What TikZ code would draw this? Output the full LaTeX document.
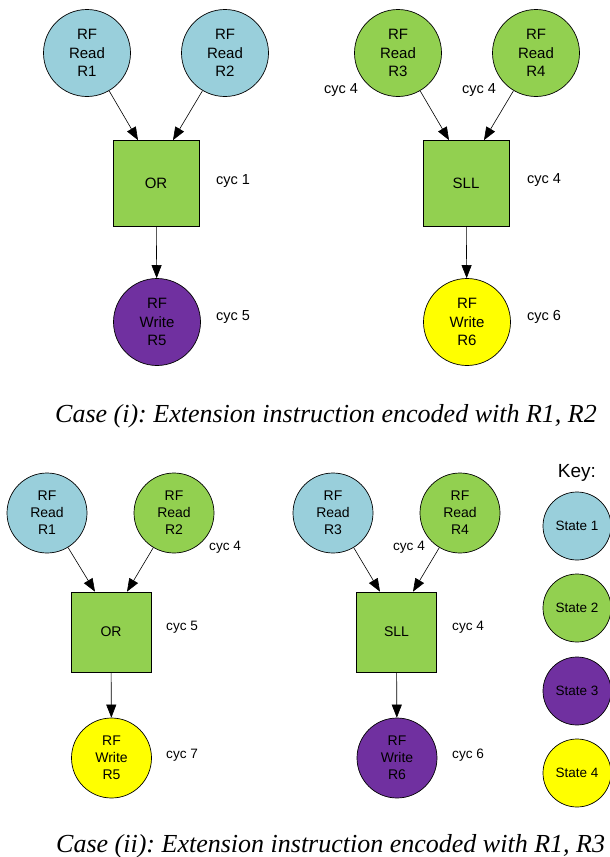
\documentclass[tikz,border=0pt]{standalone}
\usepackage{fontspec}
\setmainfont{Liberation Sans}
\newfontfamily\capfont[ItalicFont={Liberation Serif Italic}]{Liberation Serif}
\usetikzlibrary{arrows.meta}
\definecolor{stateone}{RGB}{153,207,219}
\definecolor{statetwo}{RGB}{146,208,80}
\definecolor{statethree}{RGB}{112,48,160}
\definecolor{statefour}{RGB}{255,255,0}
\begin{document}
\begin{tikzpicture}[
    x=1pt, y=-1pt,
    every node/.style={inner sep=0pt, align=center},
    reg/.style={circle, draw, line width=0.7pt, minimum size=87pt, font=\fontsize{15}{18.3}\selectfont},
    regsmall/.style={reg, minimum size=80pt, font=\fontsize{14}{17}\selectfont},
    opbox/.style={draw, line width=0.7pt, fill=statetwo, minimum size=86pt, font=\fontsize{15}{18}\selectfont},
    opsmall/.style={opbox, minimum size=80pt, font=\fontsize{14}{17}\selectfont},
    cyc/.style={font=\fontsize{14.5}{17}\selectfont},
    cycsmall/.style={font=\fontsize{13.6}{16}\selectfont},
    keydot/.style={circle, draw, line width=0.7pt, minimum size=68pt, font=\fontsize{13.5}{16}\selectfont},
    casetext/.style={anchor=base west, font=\capfont\itshape\fontsize{26}{30}\selectfont\frenchspacing},
    flow/.style={-{Triangle[length=13pt, width=10pt]}, line width=0.6pt}
  ]
  \useasboundingbox (0,0) rectangle (610,857);

  % case (i)
  \node[reg, fill=stateone] (r1) at (87,53) {RF\\Read\\R1};
  \node[reg, fill=stateone] (r2) at (225,53) {RF\\Read\\R2};
  \node[opbox] (or1) at (156,183.5) {OR};
  \node[reg, fill=statethree] (w5) at (157,322) {RF\\Write\\R5};
  \node[cyc, anchor=west] (c1) at (216,181) {cyc 1};
  \node[cyc, anchor=west] (c5) at (216,317) {cyc 5};

  \node[reg, fill=statetwo] (r3) at (398,53) {RF\\Read\\R3};
  \node[reg, fill=statetwo] (r4) at (536,53) {RF\\Read\\R4};
  \node[opbox] (sll1) at (466,183.5) {SLL};
  \node[reg, fill=statefour] (w6) at (467,322) {RF\\Write\\R6};
  \node[cyc] (c4a) at (341,90) {cyc 4};
  \node[cyc] (c4b) at (479,90) {cyc 4};
  \node[cyc, anchor=west] (c4c) at (527,180) {cyc 4};
  \node[cyc, anchor=west] (c6) at (527,317) {cyc 6};

  \draw[flow] (r1) -- ([xshift=-18pt]or1.north);
  \draw[flow] (r2) -- ([xshift=17pt]or1.north);
  \draw[flow] (or1) -- (w5);
  \draw[flow] (r3) -- ([xshift=-17pt]sll1.north);
  \draw[flow] (r4) -- ([xshift=18pt]sll1.north);
  \draw[flow] (sll1) -- (w6);

  \node[casetext] (capone) at (55,422) {Case (i): Extension instruction encoded with R1, R2};

  % case (ii)
  \node[regsmall, fill=stateone] (r1b) at (47,513) {RF\\Read\\R1};
  \node[regsmall, fill=statetwo] (r2b) at (174,513) {RF\\Read\\R2};
  \node[opsmall] (or2) at (111,632) {OR};
  \node[regsmall, fill=statefour] (w5b) at (111.5,758) {RF\\Write\\R5};
  \node[cycsmall, anchor=west] (c4d) at (209,547) {cyc 4};
  \node[cycsmall, anchor=west] (c5b) at (166,627) {cyc 5};
  \node[cycsmall, anchor=west] (c7) at (166,755) {cyc 7};

  \node[regsmall, fill=stateone] (r3b) at (333,513) {RF\\Read\\R3};
  \node[regsmall, fill=statetwo] (r4b) at (460,513) {RF\\Read\\R4};
  \node[opsmall] (sll2) at (396.5,632) {SLL};
  \node[regsmall, fill=statethree] (w6b) at (397,758) {RF\\Write\\R6};
  \node[cycsmall] (c4e) at (409,547) {cyc 4};
  \node[cycsmall, anchor=west] (c4f) at (452,627) {cyc 4};
  \node[cycsmall, anchor=west] (c6b) at (452,755) {cyc 6};

  \draw[flow] (r1b) -- ([xshift=-16pt]or2.north);
  \draw[flow] (r2b) -- ([xshift=16pt]or2.north);
  \draw[flow] (or2) -- (w5b);
  \draw[flow] (r3b) -- ([xshift=-16.5pt]sll2.north);
  \draw[flow] (r4b) -- ([xshift=16.5pt]sll2.north);
  \draw[flow] (sll2) -- (w6b);

  % key
  \node[font=\fontsize{19}{22}\selectfont] (key) at (577,473) {Key:};
  \node[keydot, fill=stateone] (k1) at (577,526) {State 1};
  \node[keydot, fill=statetwo] (k2) at (577,608) {State 2};
  \node[keydot, fill=statethree] (k3) at (577,691) {State 3};
  \node[keydot, fill=statefour] (k4) at (577,773) {State 4};

  \node[casetext] (captwo) at (56,852) {Case (ii): Extension instruction encoded with R1, R3};
\end{tikzpicture}
\end{document}
